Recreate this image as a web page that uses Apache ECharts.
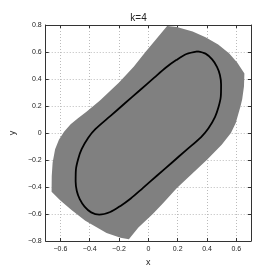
<!DOCTYPE html>
<html>
<head>
<meta charset="utf-8">
<script src="https://cdn.jsdelivr.net/npm/echarts@6/dist/echarts.min.js"></script>
<style>html,body{margin:0;padding:0;background:#fff}#c{width:277px;height:277px}</style>
</head>
<body>
<div id="c"></div>
<script>
var titleText = 'k=4';
var xName = 'x';
var yName = 'y';
var xMin = -0.7, xMax = 0.7;
var yMin = -0.8, yMax = 0.8;

// gray region boundary (clockwise from top tip)
var regionX = [0.128,0.193,0.302,0.39,0.476,0.55,0.607,0.655,0.652,0.64,0.628,0.596,0.563,0.50,0.40,0.30,0.193,0.10,0.03,-0.068,-0.133,-0.19,-0.285,-0.35,-0.43,-0.524,-0.60,-0.66,-0.659,-0.653,-0.636,-0.61,-0.575,-0.53,-0.48,-0.42,-0.33,-0.20,-0.10,-0.02,0.05];
var regionY = [0.792,0.785,0.752,0.71,0.655,0.59,0.52,0.44,0.345,0.25,0.197,0.075,0.0,-0.087,-0.198,-0.30,-0.41,-0.52,-0.60,-0.70,-0.787,-0.775,-0.74,-0.70,-0.65,-0.57,-0.50,-0.435,-0.32,-0.22,-0.12,-0.05,0.01,0.065,0.11,0.16,0.24,0.375,0.49,0.60,0.69];

// closed black curve (clockwise from top)
var curveX = [0.335,0.39,0.435,0.468,0.488,0.496,0.494,0.478,0.455,0.41,0.36,0.26,0.16,0.06,-0.04,-0.12,-0.19,-0.26,-0.335,-0.39,-0.435,-0.468,-0.488,-0.496,-0.494,-0.478,-0.455,-0.41,-0.36,-0.26,-0.16,-0.06,0.04,0.12,0.19,0.26,0.335];
var curveY = [0.605,0.588,0.545,0.49,0.43,0.36,0.27,0.19,0.12,0.035,-0.03,-0.125,-0.22,-0.315,-0.41,-0.485,-0.54,-0.585,-0.605,-0.588,-0.545,-0.49,-0.43,-0.36,-0.27,-0.19,-0.12,-0.035,0.03,0.125,0.22,0.315,0.41,0.485,0.54,0.585,0.605];

var curveData = curveX.map(function (x, i) { return [x, curveY[i]]; });

var font = 'Liberation Sans, Arial, sans-serif';
var axisCol = '#333';
function fmt(v) { return (Math.round(v * 10) / 10).toString().replace('-', '\u2212'); }
function mkX(pos, labels) {
  return {
    type: 'value', position: pos, min: xMin, max: xMax, splitNumber: 7,
    name: labels ? xName : '', nameLocation: 'middle', nameGap: 13,
    nameTextStyle: { fontSize: 9, color: '#222', fontFamily: font },
    axisLine: { show: true, onZero: false, lineStyle: { color: axisCol, width: 1 } },
    axisTick: { show: true, inside: true, length: 3, lineStyle: { color: axisCol } },
    axisLabel: { show: labels, fontSize: 7, color: '#222', fontFamily: font, margin: 5,
      showMinLabel: false, showMaxLabel: false, formatter: fmt },
    splitLine: { show: labels, lineStyle: { color: '#bbb', type: [1, 2], width: 1 } }
  };
}
function mkY(pos, labels) {
  return {
    type: 'value', position: pos, min: yMin, max: yMax, splitNumber: 8,
    name: labels ? yName : '', nameLocation: 'middle', nameGap: 25, nameRotate: 90,
    nameTextStyle: { fontSize: 9, color: '#222', fontFamily: font },
    axisLine: { show: true, onZero: false, lineStyle: { color: axisCol, width: 1 } },
    axisTick: { show: true, inside: true, length: 3, lineStyle: { color: axisCol } },
    axisLabel: { show: labels, fontSize: 7, color: '#222', fontFamily: font, margin: 4, formatter: fmt },
    splitLine: { show: labels, lineStyle: { color: '#bbb', type: [1, 2], width: 1 } }
  };
}

var chart = echarts.init(document.getElementById('c'), null, { renderer: 'canvas' });
chart.setOption({
  animation: false,
  backgroundColor: '#fff',
  title: { text: titleText, left: 'center', top: 8, itemGap: 0,
    textStyle: { fontSize: 10, fontWeight: 'normal', color: '#222', fontFamily: font } },
  grid: { left: 36, right: 26, top: 25, bottom: 36, containLabel: false },
  xAxis: [mkX('bottom', true), mkX('top', false)],
  yAxis: [mkY('left', true), mkY('right', false)],
  series: [
    {
      type: 'custom',
      xAxisIndex: 0, yAxisIndex: 0,
      data: [[0, 0]],
      silent: true,
      renderItem: function (params, api) {
        var pts = regionX.map(function (x, i) { return api.coord([x, regionY[i]]); });
        return { type: 'polygon', shape: { points: pts }, style: { fill: '#808080', stroke: null } };
      },
      z: 2
    },
    {
      type: 'line',
      xAxisIndex: 0, yAxisIndex: 0,
      data: curveData,
      showSymbol: false,
      smooth: 0.3,
      lineStyle: { color: '#000', width: 1.8 },
      z: 3
    }
  ]
});
</script>
</body>
</html>
